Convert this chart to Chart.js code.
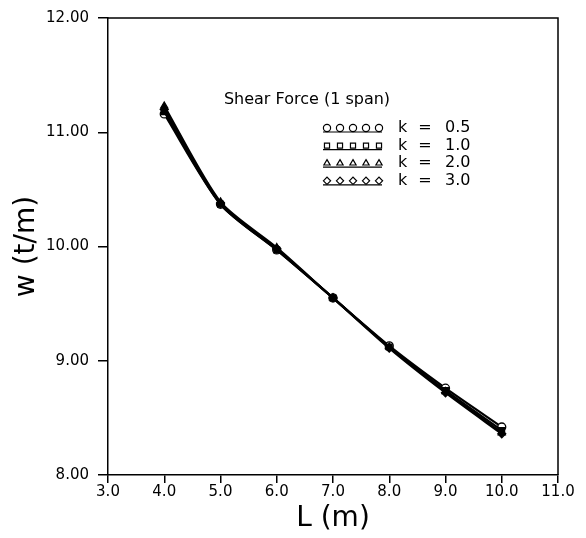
<!DOCTYPE html>
<html>
<head>
<meta charset="utf-8">
<script src="https://cdn.jsdelivr.net/npm/chart.js@4"></script>
<style>
  html, body { margin: 0; background: #fff; }
</style>
</head>
<body>
<canvas id="chart" width="586" height="538"></canvas>
<script>
// ==============================
// DATA
// ==============================
const spans = [4, 5, 6, 7, 8, 9, 10];
const k05 = [11.16, 10.37, 9.97, 9.55, 9.13, 8.76, 8.42];
const k10 = [11.18, 10.37, 9.97, 9.55, 9.12, 8.74, 8.39];
const k20 = [11.23, 10.39, 9.99, 9.55, 9.12, 8.73, 8.37];
const k30 = [11.20, 10.38, 9.98, 9.55, 9.11, 8.72, 8.36];

const kValues = ["0.5", "1.0", "2.0", "3.0"];
const markers = ["circle", "rect", "triangle", "rectRot"];
const markerFill = ["#fff", "#000", "#000", "#000"];
const drawOrder = [3, 2, 0, 1];

const xTicks = [3, 4, 5, 6, 7, 8, 9, 10, 11];
const yTicks = [8, 9, 10, 11, 12];

const chartTitle = "Shear Force (1 span)";
const xTitle = "L (m)";
const yTitle = "w (t/m)";

const FONT = "DejaVu Sans";

// ==============================
// HELPERS
// ==============================
function toPoints(values) {
  return spans.map((x, i) => ({ x: x, y: values[i] }));
}

// frame, title and the little legend block
const extras = {
  id: "extras",
  afterDraw(chart) {
    const ctx = chart.ctx;
    const a = chart.chartArea;

    ctx.save();
    ctx.strokeStyle = "#000";
    ctx.lineWidth = 1.5;
    ctx.beginPath();
    ctx.moveTo(a.left, a.top);
    ctx.lineTo(a.right, a.top);
    ctx.lineTo(a.right, a.bottom);
    ctx.stroke();

    ctx.fillStyle = "#000";
    ctx.font = "16px '" + FONT + "'";
    ctx.textBaseline = "middle";
    ctx.textAlign = "center";
    ctx.fillText(chartTitle, 307, 100);

    kValues.forEach((k, i) => {
      const y = 128 + i * 17.6;

      ctx.strokeStyle = "#000";
      ctx.lineWidth = 1.2;
      ctx.beginPath();
      ctx.moveTo(323, y + 4);
      ctx.lineTo(382, y + 4);
      ctx.stroke();

      for (let j = 0; j < 5; j++) {
        ctx.fillStyle = "#fff";
        ctx.strokeStyle = "#000";
        Chart.helpers.drawPoint(ctx, {
          pointStyle: markers[i], radius: 3.6, borderWidth: 1.2, rotation: 0
        }, 327 + j * 13, y);
      }

      ctx.fillStyle = "#000";
      ctx.textAlign = "left";
      ctx.fillText("k", 398, y);
      ctx.textAlign = "center";
      ctx.fillText("=", 425, y);
      ctx.textAlign = "left";
      ctx.fillText(k, 445, y);
    });
    ctx.restore();
  }
};

// ==============================
// CHART
// ==============================
const series = [k05, k10, k20, k30];

const datasets = series.map((vals, i) => ({
  label: "k = " + kValues[i],
  data: toPoints(vals),
  order: drawOrder[i],
  showLine: true,
  borderColor: "#000",
  borderWidth: 2.2,
  tension: 0.25,
  pointStyle: markers[i],
  pointRadius: 4,
  pointBorderWidth: 1.3,
  pointBorderColor: "#000",
  pointBackgroundColor: markerFill[i]
}));

new Chart(document.getElementById("chart"), {
  type: "scatter",
  data: { datasets: datasets },
  options: {
    responsive: false,
    animation: false,
    layout: { padding: { left: 0, top: 14, right: 28, bottom: 0 } },
    plugins: {
      legend: { display: false },
      tooltip: { enabled: false }
    },
    scales: {
      x: {
        type: "linear",
        min: xTicks[0],
        max: xTicks[xTicks.length - 1],
        afterFit: s => { s.height = 63; },
        afterBuildTicks: s => { s.ticks = xTicks.map(v => ({ value: v })); },
        ticks: {
          color: "#000",
          font: { family: FONT, size: 15 },
          padding: 0,
          maxRotation: 0,
          autoSkip: false,
          callback: v => Number(v).toFixed(1)
        },
        grid: { drawOnChartArea: false, drawTicks: true, tickLength: 8, color: "#000", lineWidth: 1.5 },
        border: { display: true, color: "#000", width: 1.5 },
        title: {
          display: true,
          text: xTitle,
          color: "#000",
          font: { family: FONT, size: 28 },
          padding: { top: 0, bottom: 2 }
        }
      },
      y: {
        type: "linear",
        min: yTicks[0],
        max: yTicks[yTicks.length - 1],
        afterFit: s => { s.width = 108; },
        afterBuildTicks: s => { s.ticks = yTicks.map(v => ({ value: v })); },
        ticks: {
          color: "#000",
          font: { family: FONT, size: 15 },
          padding: 9,
          callback: v => Number(v).toFixed(2)
        },
        grid: { drawOnChartArea: false, drawTicks: true, tickLength: 10, color: "#000", lineWidth: 1.5 },
        border: { display: true, color: "#000", width: 1.5 },
        title: {
          display: true,
          text: yTitle,
          color: "#000",
          font: { family: FONT, size: 28 },
          padding: { top: 10, bottom: 0 }
        }
      }
    }
  },
  plugins: [extras]
});
</script>
</body>
</html>
